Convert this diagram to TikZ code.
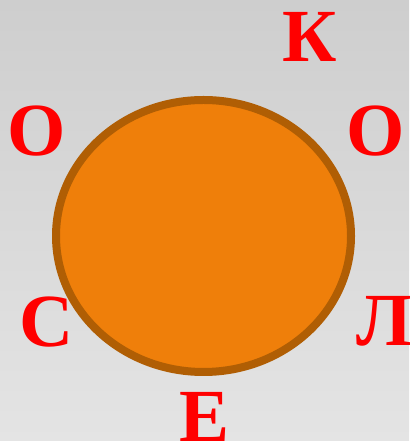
\documentclass[tikz,border=0pt]{standalone}
\usepackage{fontspec}
\setmainfont{Liberation Serif}
\usetikzlibrary{shapes.geometric}
\definecolor{BackTop}{HTML}{CECECE}
\definecolor{BackBottom}{HTML}{E4E4E4}
\definecolor{WheelFill}{HTML}{EF7F0A}
\definecolor{WheelRim}{HTML}{B05E04}
\definecolor{LetterRed}{HTML}{FF0000}
\tikzset{
  wheelbox/.style={ellipse,draw=WheelRim,fill=WheelFill,line width=8pt,inner sep=0pt,minimum width=295pt,minimum height=272pt},
  letter/.style={anchor=base,inner sep=0pt,text=LetterRed,font=\fontsize{75}{75}\selectfont\bfseries}
}
\begin{document}
\begin{tikzpicture}[x=1pt,y=1pt]
  % background
  \fill[top color=BackTop,bottom color=BackBottom] (0,0) rectangle (409,441);
  \useasboundingbox (0,0) rectangle (409,441);
  % wheel
  \node[wheelbox] (wheel) at (203.5,205) {};
  % letters round the wheel
  \node[letter] (k) at (310,379) {К};
  \node[letter] (o1) at (376,285) {О};
  \node[letter] (l) at (384,95) {Л};
  \node[letter] (e) at (205,-1) {Е};
  \node[letter] (s) at (47,94) {С};
  \node[letter] (o2) at (37,285) {О};
\end{tikzpicture}
\end{document}
